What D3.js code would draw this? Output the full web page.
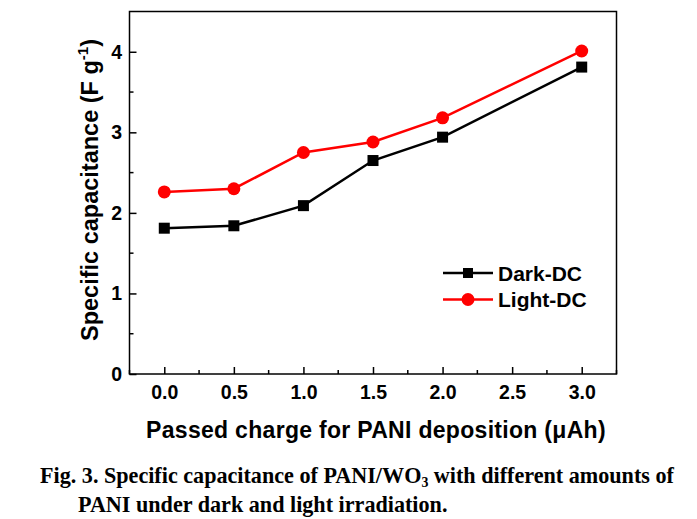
<!DOCTYPE html>
<html>
<head>
<meta charset="utf-8">
<script src="https://cdn.jsdelivr.net/npm/d3@7"></script>
<style>
  body { margin: 0; background: #fff; }
  svg { display: block; }
  .tick text { font-family: Arial, "Liberation Sans", sans-serif; font-weight: bold; }
</style>
</head>
<body>
<svg id="chart" width="697" height="519"></svg>
<script>
// passed charge (µAh)
const charges = [0, 0.5, 1.0, 1.5, 2.0, 3.0];
const darkDC = [1.81, 1.84, 2.09, 2.65, 2.94, 3.81];
const lightDC = [2.26, 2.30, 2.75, 2.88, 3.18, 4.01];
const xTicks = [0, 0.5, 1.0, 1.5, 2.0, 2.5, 3.0];
const yTicks = [0, 1, 2, 3, 4];
const captionLines = [
  ["Fig. 3. Specific capacitance of PANI/WO", "3", " with different amounts of"],
  ["PANI under dark and light irradiation."]
];

const svg = d3.select("#chart");
const sans = "Arial, 'Liberation Sans', sans-serif";
const plotL = 129.5, plotR = 616.5, plotT = 11.5, plotB = 374;

const x = d3.scaleLinear().domain([-0.25, 3.25]).range([plotL, plotR]);
const y = d3.scaleLinear().domain([0, 4.5]).range([plotB, plotT]);

// frame
svg.append("rect")
  .attr("x", plotL).attr("y", plotT)
  .attr("width", plotR - plotL).attr("height", plotB - plotT)
  .attr("fill", "none").attr("stroke", "#000").attr("stroke-width", 1.5);

// minor ticks (inward)
const xMinor = d3.range(-0.25, 3.26, 0.25).filter(v => Math.abs(v * 2 - Math.round(v * 2)) > 0.01);
svg.append("g").selectAll("line").data(xMinor).join("line")
  .attr("x1", d => x(d)).attr("x2", d => x(d))
  .attr("y1", plotB).attr("y2", plotB - 4)
  .attr("stroke", "#000").attr("stroke-width", 1.5);
const yMinor = [0.5, 1.5, 2.5, 3.5];
svg.append("g").selectAll("line").data(yMinor).join("line")
  .attr("x1", plotL).attr("x2", plotL + 4)
  .attr("y1", d => y(d)).attr("y2", d => y(d))
  .attr("stroke", "#000").attr("stroke-width", 1.5);

// axes
const xAxis = svg.append("g")
  .attr("transform", `translate(0,${plotB})`)
  .call(d3.axisBottom(x).tickValues(xTicks).tickFormat(d3.format(".1f"))
    .tickSizeInner(-7).tickSizeOuter(0).tickPadding(11));
const yAxis = svg.append("g")
  .attr("transform", `translate(${plotL},0)`)
  .call(d3.axisLeft(y).tickValues(yTicks).tickFormat(d3.format("d"))
    .tickSizeInner(-7).tickSizeOuter(0).tickPadding(7.5));
[xAxis, yAxis].forEach(a => {
  a.select(".domain").remove();
  a.selectAll(".tick line").attr("stroke", "#000").attr("stroke-width", 1.5);
  a.selectAll(".tick text").attr("fill", "#000").style("font-size", "19.5px");
});

// series
const line = d3.line().x((d, i) => x(charges[i])).y(d => y(d));
svg.append("path").datum(darkDC).attr("d", line)
  .attr("fill", "none").attr("stroke", "#000").attr("stroke-width", 2.5);
svg.append("path").datum(lightDC).attr("d", line)
  .attr("fill", "none").attr("stroke", "#f00").attr("stroke-width", 2.5);

svg.append("g").selectAll("rect").data(darkDC).join("rect")
  .attr("x", (d, i) => x(charges[i]) - 5.5).attr("y", d => y(d) - 5.5)
  .attr("width", 11).attr("height", 11).attr("fill", "#000");
svg.append("g").selectAll("circle").data(lightDC).join("circle")
  .attr("cx", (d, i) => x(charges[i])).attr("cy", d => y(d))
  .attr("r", 6.5).attr("fill", "#f00");

// legend
const legend = [
  { name: "Dark-DC", color: "#000", shape: "square" },
  { name: "Light-DC", color: "#f00", shape: "circle" }
];
const lg = svg.append("g").selectAll("g").data(legend).join("g")
  .attr("transform", (d, i) => `translate(443,${273 + i * 26.5})`);
lg.append("line").attr("x1", 0).attr("x2", 50)
  .attr("stroke", d => d.color).attr("stroke-width", 2.5);
lg.filter(d => d.shape === "square").append("rect")
  .attr("x", 20).attr("y", -5).attr("width", 10).attr("height", 10).attr("fill", "#000");
lg.filter(d => d.shape === "circle").append("circle")
  .attr("cx", 25).attr("r", 6.5).attr("fill", "#f00");
lg.append("text").attr("x", 55).attr("dy", "0.36em")
  .style("font-family", sans).style("font-weight", "bold").style("font-size", "21px")
  .text(d => d.name);

// axis titles
svg.append("text")
  .attr("x", 376).attr("y", 438)
  .attr("text-anchor", "middle")
  .style("font-family", sans).style("font-weight", "bold").style("font-size", "23px")
  .style("letter-spacing", "0.3px")
  .text("Passed charge for PANI deposition (\u03BCAh)");

const yt = svg.append("text")
  .attr("transform", `translate(98,190) rotate(-90)`)
  .attr("text-anchor", "middle")
  .style("font-family", sans).style("font-weight", "bold").style("font-size", "23.5px");
yt.append("tspan").text("Specific capacitance (F g");
yt.append("tspan").attr("dy", -10).style("font-size", "15px").text("-1");
yt.append("tspan").attr("dy", 10).text(")");

// caption
const cap = svg.append("g");
captionLines.forEach((parts, i) => {
  const t = cap.append("text")
    .attr("transform", `translate(${i === 0 ? 40 : 78},${483 + i * 29}) scale(0.923,1)`)
    .style("font-family", "'Liberation Serif', 'Times New Roman', serif")
    .style("font-weight", "bold").style("font-size", "24px");
  parts.forEach((p, j) => {
    const s = t.append("tspan").text(p);
    if (j === 1) s.attr("dy", 4).style("font-size", "15px");
    if (j === 2) s.attr("dy", -4);
  });
});
</script>
</body>
</html>
